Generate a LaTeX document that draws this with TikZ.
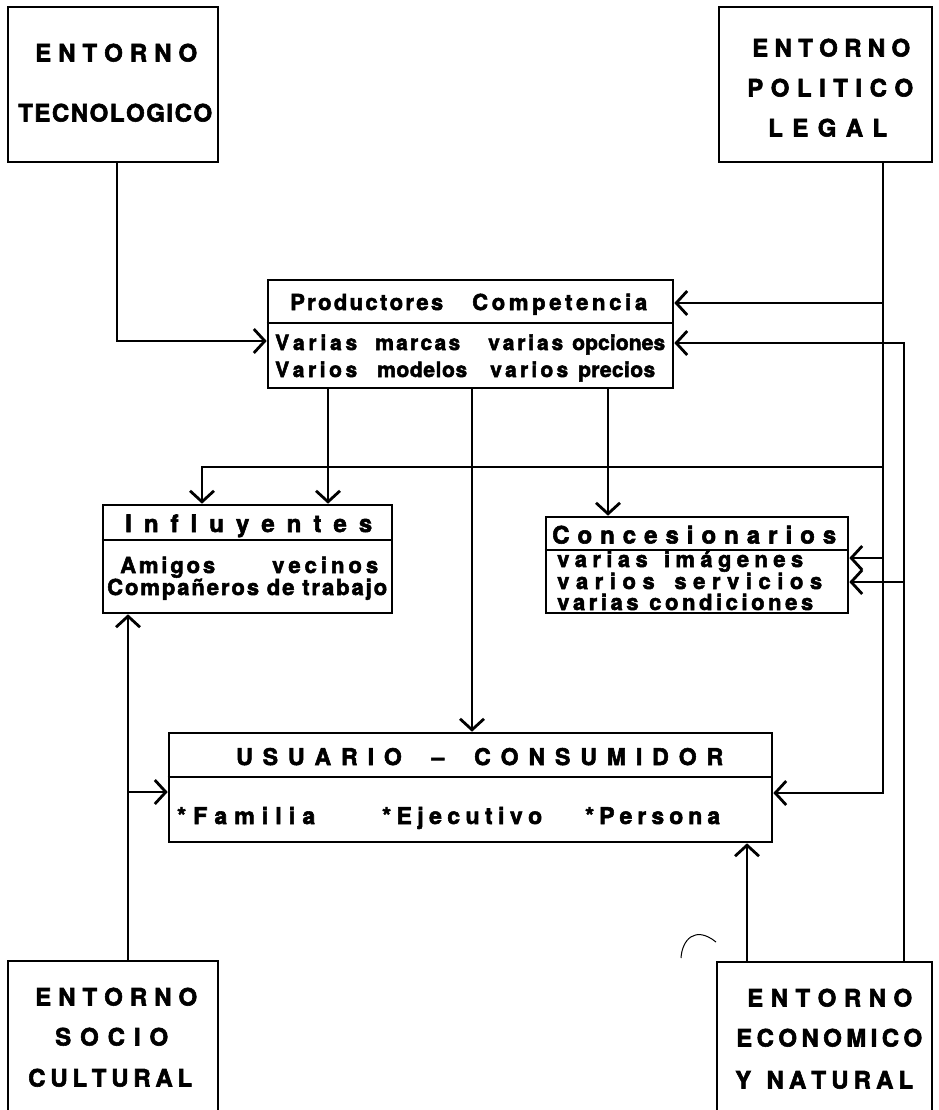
\documentclass[tikz,border=0pt]{standalone}
\usepackage{fontspec}
\setmainfont{TeX Gyre Heros}[BoldFeatures={FakeBold=2.4}]
\usetikzlibrary{arrows.meta}

% Spread the characters of #3 evenly over a box of width #2;
% a "|" marks a word gap of extra weight #1.
\ExplSyntaxOn
\bool_new:N \l__spread_first_bool
\NewDocumentCommand \spreadtxt { O{2} m m }
  {
    \makebox [ #2 ] [ s ]
      {
        \bool_set_true:N \l__spread_first_bool
        \tl_map_inline:nn { #3 }
          {
            \str_if_eq:nnTF { ##1 } { | }
              { \hskip 0pt plus #1 fil \scan_stop: }
              {
                \bool_if:NF \l__spread_first_bool { \hskip 0pt plus 1 fil \scan_stop: }
                \bool_set_false:N \l__spread_first_bool
                ##1
              }
          }
      }
  }
\ExplSyntaxOff

\begin{document}
\begin{tikzpicture}[x=1pt,y=-1pt,
  box/.style={draw, rectangle, line width=2.6pt, inner sep=0pt},
  divider/.style={line width=2.2pt},
  conn/.style={line width=1.9pt,
    -{Straight Barb[length=11pt,width=24pt,line width=2.8pt]}},
  txt/.style={inner sep=0pt, anchor=base west,
    font=\bfseries\fontsize{24pt}{24pt}\selectfont},
  txtm/.style={txt, font=\bfseries\fontsize{23pt}{23pt}\selectfont},
  txtk/.style={txt, font=\bfseries\fontsize{22pt}{22pt}\selectfont},
  txts/.style={txt, font=\bfseries\fontsize{21pt}{21pt}\selectfont}]

\useasboundingbox (0,0) rectangle (938,1110);
\clip (0,0) rectangle (938,1110);

% ---- boxes ----
\node[box, minimum width=210pt, minimum height=155pt] (tec)  at (113,84.5) {};
\node[box, minimum width=213pt, minimum height=155pt] (pol)  at (825.5,84.5) {};
\node[box, minimum width=405pt, minimum height=108pt] (prod) at (470.5,334) {};
\node[box, minimum width=289pt, minimum height=108pt] (infl) at (247.5,559) {};
\node[box, minimum width=302pt, minimum height=96pt]  (conc) at (697,565) {};
\node[box, minimum width=603pt, minimum height=109pt] (usu)  at (470.5,787.5) {};
\node[box, minimum width=210pt, minimum height=164pt] (soc)  at (113,1043) {};
\node[box, minimum width=215pt, minimum height=163pt] (eco)  at (824.5,1043.5) {};

% title separators
\draw[divider] (prod.west |- 0,323) -- (prod.east |- 0,323);
\draw[divider] (infl.west |- 0,540) -- (infl.east |- 0,540);
\draw[divider] (conc.west |- 0,550) -- (conc.east |- 0,550);
\draw[divider] (usu.west |- 0,777) -- (usu.east |- 0,777);

% ---- texts ----
\node[txt] (tA) at (35,61.5)   {\spreadtxt{162pt}{ENTORNO}};
\node[txt] (tB) at (18,121.5)  {\spreadtxt{194pt}{TECNOLOGICO}};

\node[txt] (pA) at (752,56.5)  {\spreadtxt{158pt}{ENTORNO}};
\node[txt] (pB) at (747,96.5)  {\spreadtxt{166pt}{POLITICO}};
\node[txt] (pC) at (768,136.5) {\spreadtxt{119pt}{LEGAL}};

\node[txt] (sA) at (35,1005.5) {\spreadtxt{162pt}{ENTORNO}};
\node[txt] (sB) at (55,1045.5) {\spreadtxt{113pt}{SOCIO}};
\node[txt] (sC) at (28,1086.5) {\spreadtxt{164pt}{CULTURAL}};

\node[txt] (eA) at (747,1006.5) {\spreadtxt{165pt}{ENTORNO}};
\node[txt] (eB) at (736,1046.5) {\spreadtxt{186pt}{ECONOMICO}};
\node[txt] (eC) at (735,1088.5) {\spreadtxt{178pt}{Y|NATURAL}};

\node[txtk] (prA) at (290,310) {\spreadtxt{153pt}{Productores}};
\node[txtk] (prB) at (472,310) {\spreadtxt{175pt}{Competencia}};
\node[txts] (prC) at (275,350) {\spreadtxt{82pt}{Varias}};
\node[txts] (prD) at (375,350) {\spreadtxt{85pt}{marcas}};
\node[txts] (prE) at (488,350) {\spreadtxt{75pt}{varias}};
\node[txts] (prF) at (572,350) {\spreadtxt{93pt}{opciones}};
\node[txts] (prG) at (275,377) {\spreadtxt{82pt}{Varios}};
\node[txts] (prH) at (377,377) {\spreadtxt{90pt}{modelos}};
\node[txts] (prI) at (490,377) {\spreadtxt{78pt}{varios}};
\node[txts] (prJ) at (578,377) {\spreadtxt{77pt}{precios}};

\node[txt]  (iA) at (125,532) {\spreadtxt{247pt}{Influyentes}};
\node[txtk] (iB) at (120,573) {\spreadtxt{95pt}{Amigos}};
\node[txtk] (iC) at (272,573) {\spreadtxt{106pt}{vecinos}};
\node[txtk] (iD) at (107,595) {\spreadtxt[3]{280pt}{Compañeros|de|trabajo}};

\node[txt]  (cA) at (552,543.5) {\spreadtxt{284pt}{Concesionarios}};
\node[txtk] (cB) at (557,567) {\spreadtxt{246pt}{varias|imágenes}};
\node[txtk] (cC) at (557,589) {\spreadtxt{265pt}{varios|servicios}};
\node[txtk] (cD) at (557,610) {\spreadtxt{256pt}{varias|condiciones}};

\node[txtm] (uA) at (236,765) {\spreadtxt{487pt}{USUARIO|–|CONSUMIDOR}};
\node[txtm] (uB) at (177,824) {\spreadtxt{138pt}{*Familia}};
\node[txtm] (uC) at (382,824) {\spreadtxt{160pt}{*Ejecutivo}};
\node[txtm] (uD) at (585,824) {\spreadtxt{135pt}{*Persona}};

% ---- connector lanes ----
\coordinate (xT)  at (117,0);
\coordinate (xP)  at (883,0);
\coordinate (xE)  at (904,0);
\coordinate (xE2) at (747,0);
\coordinate (xS)  at (128,0);
\coordinate (xL)  at (202,0);
\coordinate (xA)  at (328,0);
\coordinate (xB)  at (472,0);
\coordinate (xC)  at (608,0);
\coordinate (yT)  at (0,341);
\coordinate (yPC) at (0,303);
\coordinate (yPB) at (0,343);
\coordinate (yIn) at (0,467);
\coordinate (yC1) at (0,558);
\coordinate (yC2) at (0,582);
\coordinate (yU)  at (0,793);
\coordinate (yUL) at (0,792);

% ---- connectors ----
\draw[conn] (tec.south -| xT) |- (prod.west |- yT);

\draw[conn] (pol.south -| xP) |- (usu.east |- yU);
\draw[conn] (xP |- yPC) -- (prod.east |- yPC);
\draw[conn] (xP |- yIn) -| (infl.north -| xL);
\draw[conn] (xP |- yC1) -- (conc.east |- yC1);

\draw[conn] (eco.north -| xE) |- (prod.east |- yPB);
\draw[conn] (xE |- yC2) -- (conc.east |- yC2);
\draw[conn] (eco.north -| xE2) -- (usu.south -| xE2);

\draw[conn] (soc.north -| xS) -- (infl.south -| xS);
\draw[conn] (xS |- yUL) -- (usu.west |- yUL);

\draw[conn] (prod.south -| xA) -- (infl.north -| xA);
\draw[conn] (prod.south -| xB) -- (usu.north -| xB);
\draw[conn] (prod.south -| xC) -- (conc.north -| xC);

% small pen stroke near the lower middle
\draw[line width=1pt] (681,958) .. controls (682,940) and (695,925) .. (716,942);
\end{tikzpicture}
\end{document}
